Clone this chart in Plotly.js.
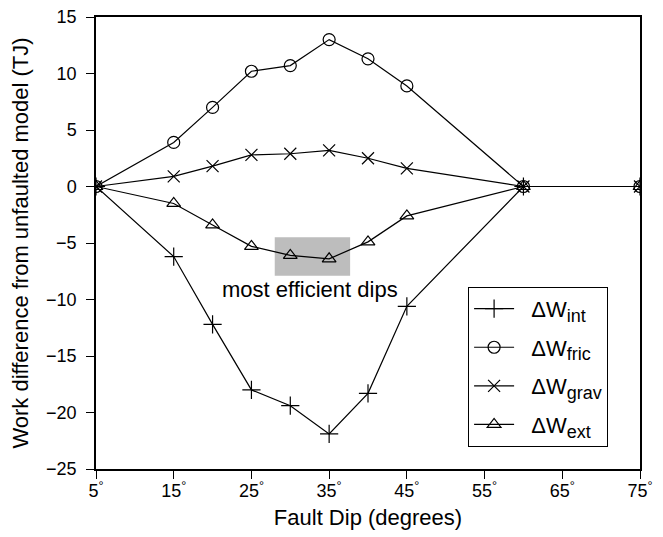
<!DOCTYPE html>
<html>
<head>
<meta charset="utf-8">
<script src="https://cdn.plot.ly/plotly-3.0.1.min.js"></script>
<style>html,body{margin:0;padding:0;background:#fff;}#chart{width:663px;height:537px;}</style>
</head>
<body>
<div id="chart"></div>
<script>
const dips = [5, 15, 20, 25, 30, 35, 40, 45, 60, 75];
const wInt  = [0, -6.2, -12.2, -18.0, -19.4, -21.9, -18.3, -10.6, 0, 0];
const wFric = [0, 3.9, 7.0, 10.2, 10.7, 13.0, 11.3, 8.9, 0, 0];
const wGrav = [0, 0.9, 1.8, 2.8, 2.9, 3.2, 2.5, 1.6, 0, 0];
const wExt  = [0, -1.5, -3.4, -5.3, -6.1, -6.4, -4.9, -2.6, 0, 0];
const subs = ["int", "fric", "grav", "ext"];
const seriesNames = subs.map(s => "&nbsp;&nbsp;ΔW<sub><span style=\"font-size:18px\">" + s + "</span></sub>");
const xTickVals = [5, 15, 25, 35, 45, 55, 65, 75];
const xTickText = xTickVals.map(v => v + "<sup>°</sup>");
const yTickVals = [15, 10, 5, 0, -5, -10, -15, -20, -25];
const annotText = "most efficient dips";
const highlight = {x0: 28, x1: 37.7, y0: -7.9, y1: -4.5};

const symbols = ["cross-thin-open", "circle-open", "x-thin-open", "triangle-up-open"];
const sizes = [13, 12, 12, 12];
const data = [wInt, wFric, wGrav, wExt].map((ys, i) => ({
  x: dips, y: ys, name: seriesNames[i], type: "scatter", mode: "lines+markers",
  legendgroup: "g" + i,
  line: {color: "#000", width: 1.2},
  marker: {symbol: symbols[i], size: sizes[i], color: "#000", line: {color: "#000", width: 1.2}}
}));

const layout = {
  width: 663, height: 537,
  margin: {l: 96, r: 23, t: 17, b: 68},
  paper_bgcolor: "#fff", plot_bgcolor: "#fff",
  font: {family: "Liberation Sans, Arial, sans-serif", color: "#000", size: 18},
  showlegend: true,
  legend: {x: 0.684, y: 0.403, xanchor: "left", yanchor: "top",
    bordercolor: "#000", borderwidth: 1, bgcolor: "#fff",
    font: {size: 22}, tracegroupgap: 7, itemwidth: 40},
  xaxis: {range: [5, 75], tickvals: xTickVals, ticktext: xTickText,
    showline: true, linecolor: "#000", linewidth: 1.5, mirror: true,
    ticks: "outside", ticklen: 8, tickcolor: "#000", showgrid: false, zeroline: false,
    tickfont: {size: 18}, ticklabelstandoff: -3,
    title: {text: "Fault Dip (degrees)", font: {size: 22}, standoff: 9}},
  yaxis: {range: [-25, 15], tickvals: yTickVals,
    showline: true, linecolor: "#000", linewidth: 1.5, mirror: true,
    ticks: "outside", ticklen: 8, tickcolor: "#000", showgrid: false, zeroline: false,
    tickfont: {size: 18}, ticklabelstandoff: 6,
    title: {text: "Work difference from unfaulted model (TJ)", font: {size: 22}, standoff: 11}},
  shapes: [{type: "rect", xref: "x", yref: "y", x0: highlight.x0, x1: highlight.x1,
    y0: highlight.y0, y1: highlight.y1, fillcolor: "#bdbdbd", line: {width: 0}, layer: "below"}],
  annotations: [{x: 32.6, y: -9.1, xref: "x", yref: "y", text: annotText, showarrow: false,
    font: {size: 22}}]
};
Plotly.newPlot("chart", data, layout, {displayModeBar: false});
</script>
</body>
</html>
